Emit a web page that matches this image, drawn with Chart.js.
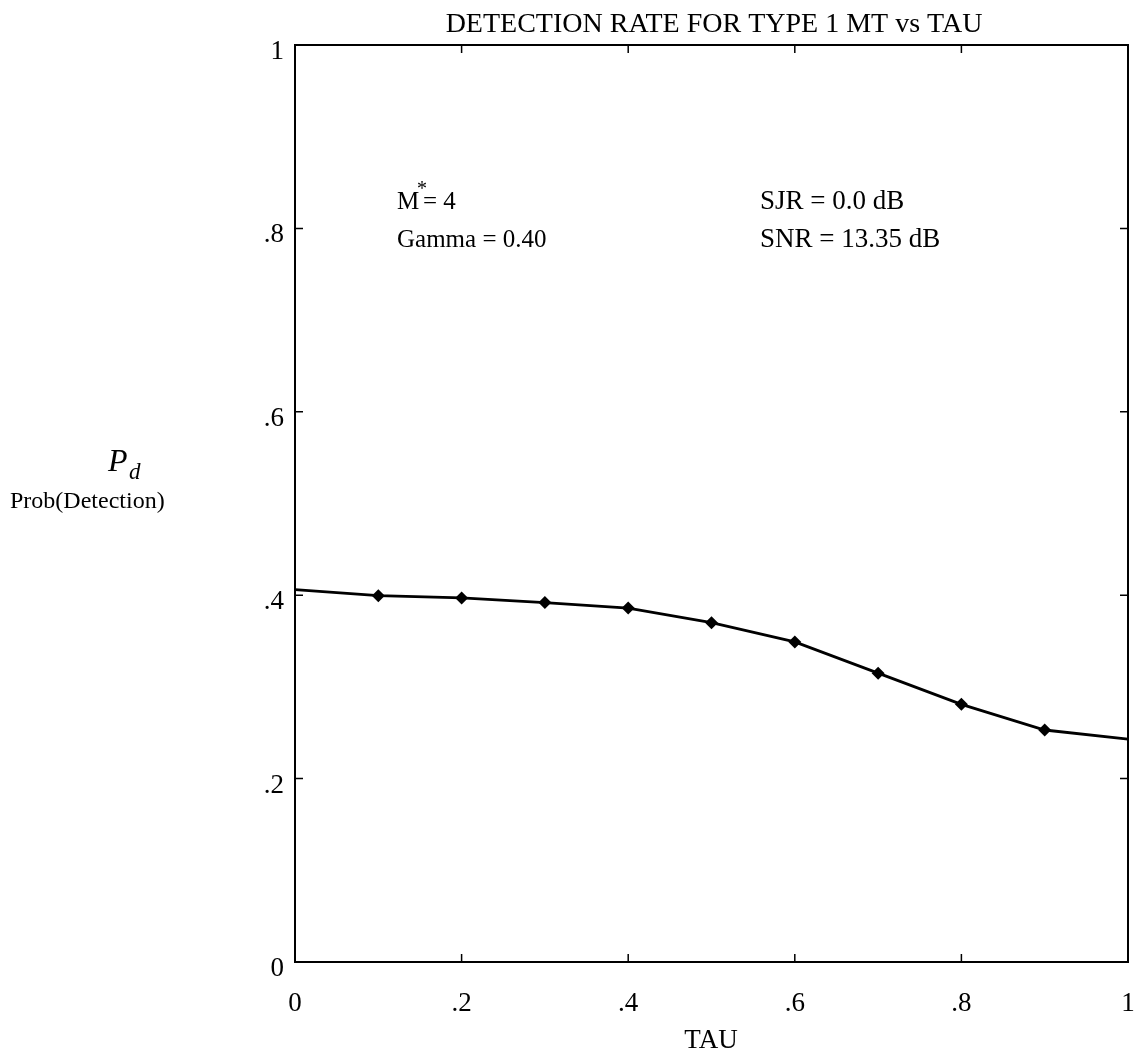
<!DOCTYPE html>
<html>
<head>
<meta charset="utf-8">
<script src="https://cdn.jsdelivr.net/npm/chart.js@4"></script>
<style>
  html, body { margin: 0; padding: 0; background: #fff; }
  #wrap { width: 1137px; height: 1058px; }
</style>
</head>
<body>
<div id="wrap"><canvas id="myChart" width="1137" height="1058"></canvas></div>
<script>
// data
var tau = [0, 0.1, 0.2, 0.3, 0.4, 0.5, 0.6, 0.7, 0.8, 0.9, 1.0];
var pd = [0.406, 0.3995, 0.397, 0.392, 0.386, 0.370, 0.349, 0.315, 0.281, 0.253, 0.243];
var markerShown = [false, true, true, true, true, true, true, true, true, true, false];
var xTicks = [0, 0.2, 0.4, 0.6, 0.8, 1];
var xTickLabels = ['0', '.2', '.4', '.6', '.8', '1'];
var yTicks = [0, 0.2, 0.4, 0.6, 0.8, 1];
var yTickLabels = ['0', '.2', '.4', '.6', '.8', '1'];

var serif = '"Liberation Serif", "Times New Roman", serif';

var points = tau.map(function (t, i) { return { x: t, y: pd[i] }; });

// frame, inward ticks, labels and notes
var framePlugin = {
  id: 'frame',
  afterDraw: function (chart) {
    var ctx = chart.ctx, a = chart.chartArea;
    var xs = chart.scales.x, ys = chart.scales.y;
    ctx.save();
    ctx.strokeStyle = '#000';
    ctx.lineWidth = 2;
    ctx.strokeRect(a.left, a.top, a.right - a.left, a.bottom - a.top);

    ctx.lineWidth = 1.5;
    var tl = 8;
    xTicks.forEach(function (v) {
      var px = xs.getPixelForValue(v);
      ctx.beginPath();
      ctx.moveTo(px, a.bottom); ctx.lineTo(px, a.bottom - tl);
      ctx.moveTo(px, a.top); ctx.lineTo(px, a.top + tl);
      ctx.stroke();
    });
    yTicks.forEach(function (v) {
      var py = ys.getPixelForValue(v);
      ctx.beginPath();
      ctx.moveTo(a.left, py); ctx.lineTo(a.left + tl, py);
      ctx.moveTo(a.right, py); ctx.lineTo(a.right - tl, py);
      ctx.stroke();
    });

    ctx.fillStyle = '#000';
    ctx.font = '27px ' + serif;
    ctx.textAlign = 'center';
    ctx.textBaseline = 'middle';
    xTicks.forEach(function (v, i) {
      ctx.fillText(xTickLabels[i], xs.getPixelForValue(v), a.bottom + 42);
    });
    ctx.textAlign = 'right';
    yTicks.forEach(function (v, i) {
      ctx.fillText(yTickLabels[i], a.left - 11, ys.getPixelForValue(v) + 7);
    });

    ctx.textAlign = 'center';
    ctx.font = '28px ' + serif;
    ctx.fillText('DETECTION RATE FOR TYPE 1 MT vs TAU', 714, 25);
    ctx.font = '27px ' + serif;
    ctx.fillText('TAU', 711, 1041);

    ctx.textAlign = 'left';
    ctx.font = '25px ' + serif;
    ctx.fillText('M', 397, 202);
    ctx.font = '20px ' + serif;
    ctx.fillText('*', 417, 190);
    ctx.font = '25px ' + serif;
    ctx.fillText('= 4', 423, 202);
    ctx.fillText('Gamma = 0.40', 397, 240);
    ctx.font = '27px ' + serif;
    ctx.fillText('SJR = 0.0 dB', 760, 202);
    ctx.fillText('SNR = 13.35 dB', 760, 240);

    ctx.font = 'italic 32px ' + serif;
    ctx.fillText('P', 108, 463);
    ctx.font = 'italic 23px ' + serif;
    ctx.fillText('d', 129, 473);
    ctx.font = '24px ' + serif;
    ctx.fillText('Prob(Detection)', 10, 502);
    ctx.restore();
  }
};

var config = {
  type: 'line',
  data: {
    datasets: [{
      label: 'Pd',
      data: points,
      borderColor: '#000',
      backgroundColor: '#000',
      borderWidth: 2.8,
      tension: 0,
      pointStyle: 'rectRot',
      pointRadius: markerShown.map(function (m) { return m ? 6.5 : 0; }),
      pointBorderWidth: 0
    }]
  },
  options: {
    responsive: false,
    animation: false,
    layout: { padding: { left: 295, top: 45, right: 9, bottom: 96 } },
    plugins: {
      legend: { display: false },
      tooltip: { enabled: false }
    },
    scales: {
      x: { type: 'linear', min: 0, max: 1, display: false },
      y: { type: 'linear', min: 0, max: 1, display: false }
    }
  },
  plugins: [framePlugin]
};

const myChart = new Chart(document.getElementById('myChart'), config);
</script>
</body>
</html>
